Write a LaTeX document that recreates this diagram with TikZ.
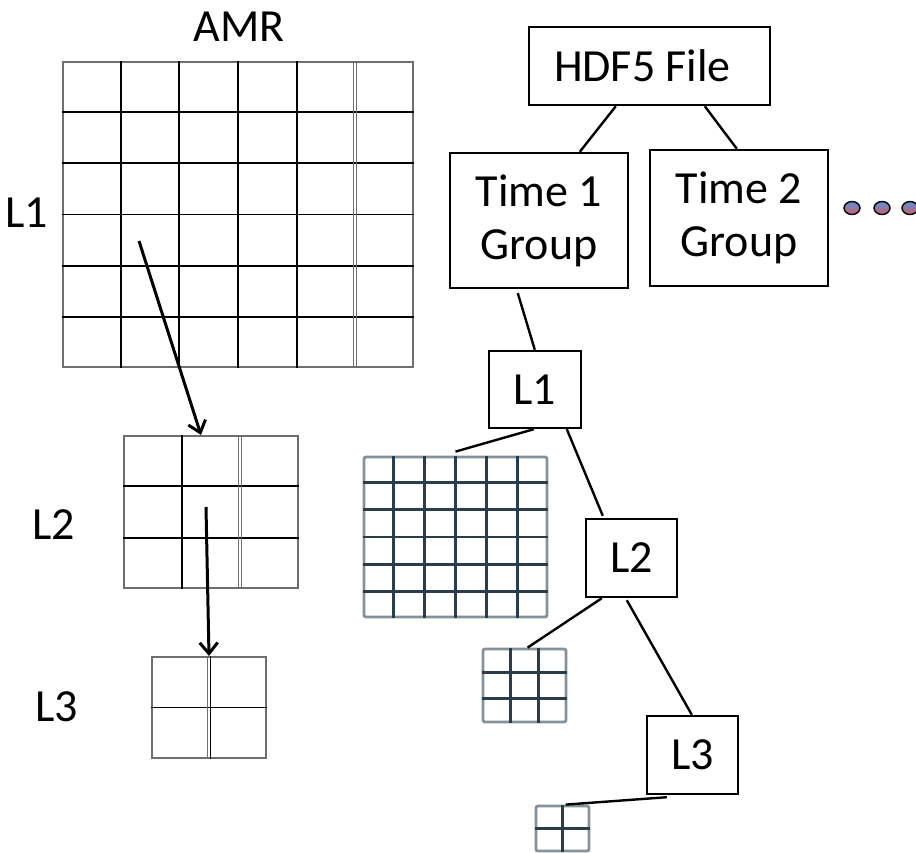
\documentclass[tikz,border=0pt]{standalone}
\usepackage{fontspec}
\setmainfont{Carlito}
\usetikzlibrary{calc,arrows.meta,shadings}

\definecolor{frameGray}{HTML}{6E6E6E}
\definecolor{meshInk}{HTML}{2B3D4A}
\definecolor{meshEdge}{HTML}{84939B}
\definecolor{dotTop}{HTML}{5A8FD8}
\definecolor{dotBottom}{HTML}{D0606A}

\tikzset{
  bigtext/.style={font=\fontsize{46}{53}\selectfont},
  treebox/.style={bigtext, draw=black, line width=2.4pt, inner sep=0pt, align=center},
  lbl/.style={bigtext, inner sep=0pt, anchor=base},
  link/.style={line width=2.4pt, black},
  zoomarrow/.style={line width=3pt, black, -{Straight Barb[length=11pt,width=18pt]}},
  amrgrid/.style={draw=frameGray, line width=2pt, inner sep=0pt},
  amrline/.style={line width=1.9pt, black},
  twin/.style={line width=1.2pt, frameGray},
  meshgrid/.style={draw=meshEdge, line width=2.8pt, rounded corners=2pt, inner sep=0pt},
  meshline/.style={line width=2.8pt, meshInk},
  dotshape/.style={draw=black, line width=1.4pt, top color=dotTop, bottom color=dotBottom},
}

% vertical cut of node #2 at fraction #3 of its width
\newcommand\vcut[3][]{\draw[#1] ($(#2.north west)!#3!(#2.north east)$) -- ($(#2.south west)!#3!(#2.south east)$);}
% horizontal cut of node #2 at fraction #3 of its height
\newcommand\hcut[3][]{\draw[#1] ($(#2.north west)!#3!(#2.south west)$) -- ($(#2.north east)!#3!(#2.south east)$);}

\begin{document}
\begin{tikzpicture}[x=1pt,y=-1pt]
  \useasboundingbox[fill=white] (0,0) rectangle (916,852);

  % ---------- AMR hierarchy (left) ----------
  \node[lbl] (amr) at (239,41) {AMR};
  \node[lbl] (lA) at (27,227) {L1};
  \node[lbl] (lB) at (54,539) {L2};
  \node[lbl] (lC) at (57,721) {L3};

  \node[amrgrid, minimum width=350pt, minimum height=305pt] (gA) at (238,214.5) {};
  \foreach \i in {1,...,4} {\vcut[amrline]{gA}{\i/6}}
  \foreach \i in {1,...,5} {\hcut[amrline]{gA}{\i/6}}
  \draw[twin] ([xshift=-1.5pt]$(gA.north west)!5/6!(gA.north east)$) -- ([xshift=-1.5pt]$(gA.south west)!5/6!(gA.south east)$);
  \draw[twin] ([xshift=1.5pt]$(gA.north west)!5/6!(gA.north east)$) -- ([xshift=1.5pt]$(gA.south west)!5/6!(gA.south east)$);

  \node[amrgrid, minimum width=174pt, minimum height=152pt] (gB) at (211,512) {};
  \vcut[amrline]{gB}{1/3}
  \foreach \i in {1,2} {\hcut[amrline]{gB}{\i/3}}
  \draw[twin] ([xshift=-1.5pt]$(gB.north west)!2/3!(gB.north east)$) -- ([xshift=-1.5pt]$(gB.south west)!2/3!(gB.south east)$);
  \draw[twin] ([xshift=1.5pt]$(gB.north west)!2/3!(gB.north east)$) -- ([xshift=1.5pt]$(gB.south west)!2/3!(gB.south east)$);

  \node[amrgrid, minimum width=114pt, minimum height=101pt] (gC) at (209,707.5) {};
  \hcut[amrline]{gC}{1/2}
  \draw[twin] ([xshift=-1.5pt]gC.north) -- ([xshift=-1.5pt]gC.south);
  \draw[amrline, line width=1.2pt] ([xshift=1.5pt]gC.north) -- ([xshift=1.5pt]gC.south);

  \draw[zoomarrow] ([xshift=77pt,yshift=-180pt]gA.north west) -- ([xshift=78pt]gB.north west);
  \draw[zoomarrow] ([xshift=83pt,yshift=-72pt]gB.north west) -- (gC.north);

  % ---------- HDF5 file layout (right) ----------
  \node[treebox, minimum width=241pt, minimum height=78pt] (hdf) at (649.5,66) {\hspace*{-14pt}HDF5 File};
  \node[treebox, minimum width=178pt, minimum height=135pt] (t1) at (539,220.5) {Time 1\\Group};
  \node[treebox, minimum width=178pt, minimum height=136pt] (t2) at (739,218) {Time 2\\Group};
  \node[treebox, minimum width=92pt, minimum height=77pt] (n1) at (535,389.5) {L1};
  \node[treebox, minimum width=91pt, minimum height=78pt] (n2) at (631.5,558) {L2};
  \node[treebox, minimum width=91pt, minimum height=78pt] (n3) at (692.5,755) {L3};

  \node[meshgrid, minimum width=183pt, minimum height=160pt] (rA) at (455.5,537) {};
  \foreach \i in {1,...,5} {\vcut[meshline]{rA}{\i/6} \hcut[meshline]{rA}{\i/6}}
  \node[meshgrid, minimum width=83pt, minimum height=73pt] (rB) at (524.5,685.5) {};
  \foreach \i in {1,2} {\vcut[meshline]{rB}{\i/3} \hcut[meshline]{rB}{\i/3}}
  \node[meshgrid, minimum width=53pt, minimum height=45pt] (rC) at (562.5,828.5) {};
  \vcut[meshline]{rC}{1/2} \hcut[meshline]{rC}{1/2}

  \draw[link] ([xshift=88pt]hdf.south west) -- ([xshift=131pt]t1.north west);
  \draw[link] ([xshift=177pt]hdf.south west) -- ([xshift=88pt]t2.north west);
  \draw[link] ([xshift=69pt,yshift=-4pt]t1.south west) -- ([xshift=47pt]n1.north west);
  \draw[link] ([xshift=46pt]n1.south west) -- ([yshift=4pt]rA.north);
  \draw[link] ([xshift=79pt]n1.south west) -- ([xshift=18pt,yshift=2pt]n2.north west);
  \draw[link] ([xshift=17pt]n2.south west) -- ([xshift=46pt]rB.north west);
  \draw[link] ([xshift=42pt,yshift=-2pt]n2.south west) -- ([xshift=46pt]n3.north west);
  \draw[link] ([xshift=21pt,yshift=-2pt]n3.south west) -- ([xshift=31pt]rC.north west);

  % continuation marks after the last group
  \shadedraw[dotshape] (852,208) ellipse (8 and 6.5);
  \shadedraw[dotshape] (882,208) ellipse (8 and 6.5);
  \shadedraw[dotshape] (910,208) ellipse (8 and 6.5);
\end{tikzpicture}
\end{document}
